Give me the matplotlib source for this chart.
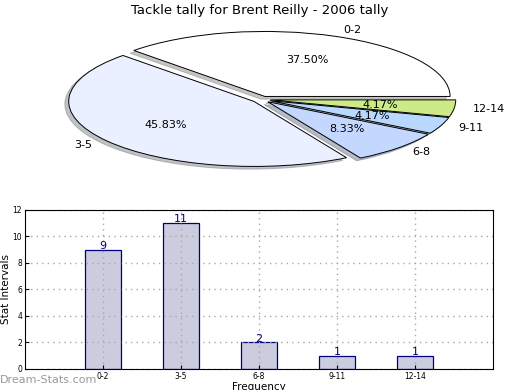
import matplotlib
matplotlib.use('Agg')
import matplotlib.pyplot as plt

# data
intervals = ['0-2', '3-5', '6-8', '9-11', '12-14']
counts = [9, 11, 2, 1, 1]
pie_colors = ['#ffffff', '#eaf0ff', '#c4d8ff', '#b8d8ff', '#ccea88']

fig = plt.figure(figsize=(5.2, 3.9), dpi=100)

# pie on top, squashed into an ellipse
ax1 = fig.add_axes([0.075, 0.545, 0.855, 0.4])
wedges, texts, autotexts = ax1.pie(counts, labels=intervals, colors=pie_colors,
                                   explode=[0.05] * len(counts),
                                   shadow={'ox': -0.015, 'oy': -0.03, 'shade': 0.45},
                                   autopct='%1.2f%%', pctdistance=0.6,
                                   labeldistance=1.1, startangle=0,
                                   wedgeprops={'edgecolor': 'black', 'linewidth': 0.7},
                                   textprops={'fontsize': 8})
ax1.set_aspect('auto')
ax1.set_xlim(-1.2, 1.2)
ax1.set_ylim(-1.2, 1.2)
fig.text(0.5, 0.972, 'Tackle tally for Brent Reilly - 2006 tally',
         ha='center', va='center', fontsize=9.5)

# bar chart below
ax2 = fig.add_axes([0.048, 0.054, 0.9, 0.408])
pos = range(len(counts))
ax2.bar(pos, counts, width=0.46, color='#ccccdf', edgecolor='#000080', linewidth=0.9)
for x, v in zip(pos, counts):
    ax2.text(x, v + 0.28, str(v), ha='center', va='center', color='#000080', fontsize=8)
ax2.set_xlim(-1, 5)
ax2.set_ylim(0, 12)
ax2.set_yticks(range(0, 13, 2))
ax2.set_xticks(list(pos))
ax2.set_xticklabels(intervals)
ax2.tick_params(labelsize=5.5, direction='in', length=3, pad=2)
ax2.grid(True, linestyle=(0, (1, 3)), color='#a8a8a8', linewidth=1.0)
ax2.set_axisbelow(False)
for sp in ax2.spines.values():
    sp.set_zorder(5)
ax2.set_ylabel('Stat Intervals', fontsize=7.5, labelpad=1)
ax2.set_xlabel('Frequency', fontsize=7.5, labelpad=1)

fig.text(0.0, 0.025, 'Dream-Stats.com', color='#999999', fontsize=8, va='center')

fig.savefig('out.png', dpi=100)
